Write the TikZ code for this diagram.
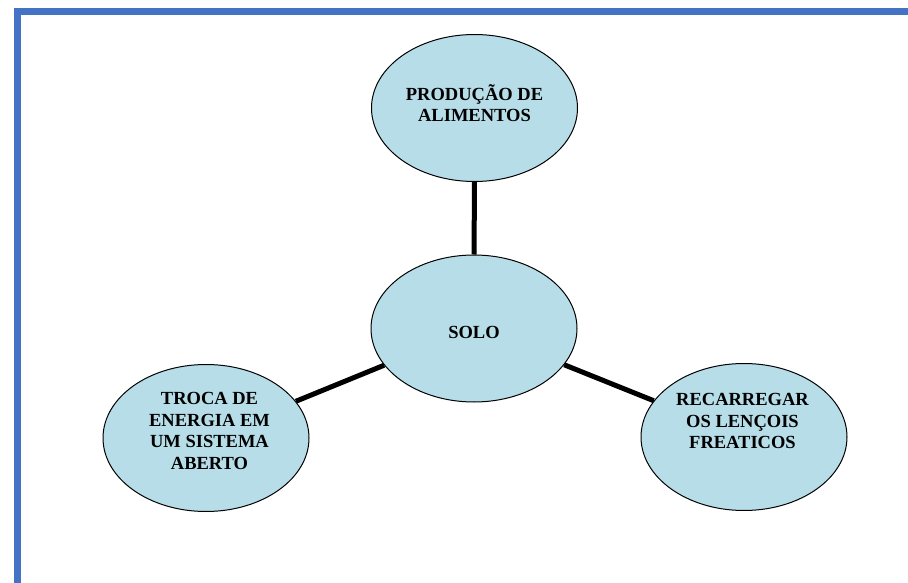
\documentclass[tikz,border=0pt]{standalone}
\usepackage{fontspec}
\setmainfont{Liberation Serif}
\usepackage{tikz}
\usetikzlibrary{calc}
\usetikzlibrary{shapes.geometric}

\definecolor{framecolor}{RGB}{68,114,196}
\definecolor{bubblefill}{RGB}{183,222,232}

\begin{document}
\begin{tikzpicture}[x=1pt,y=-1pt]
    \tikzstyle{frame}=[fill=framecolor]
    \tikzstyle{bubble}=[ellipse,draw=black,line width=1pt,fill=bubblefill,minimum width=206pt,minimum height=147pt,inner sep=0pt]
    \tikzstyle{bubble text}=[align=center,inner sep=0pt,font=\bfseries\fontsize{18.5}{21.5}\selectfont]
    \tikzstyle{link}=[line width=5pt,color=black]

    \useasboundingbox (0,0) rectangle (908,583);

    % Frame
    \fill[style=frame] (14,8.3) rectangle (908,15);
    \fill[style=frame] (14.3,8.3) rectangle (20.7,583);

    % Bubbles
    \node[style=bubble] (solo) at (474,328.5) {};
    \node[style=bubble] (prod) at (474.5,108) {};
    \node[style=bubble] (troca) at (206,438) {};
    \node[style=bubble] (recarga) at (744,437) {};

    % Links
    \draw[style=link] (solo) -- (prod);
    \draw[style=link] (solo) -- (troca);
    \draw[style=link] (solo) -- (recarga);

    % Texts
    \node[style=bubble text] (solo label) at ($(solo)+(0,4)$) {SOLO};
    \node[style=bubble text] (prod label) at ($(prod)+(0,-5)$) {PRODUÇÃO DE\\ALIMENTOS};
    \node[style=bubble text] (troca label) at ($(troca)+(3.5,-7)$) {TROCA DE\\ENERGIA EM\\UM SISTEMA\\ABERTO};
    \node[style=bubble text] (recarga label) at ($(recarga)+(-1.5,-16)$) {RECARREGAR\\OS LENÇOIS\\FREATICOS};

\end{tikzpicture}
\end{document}
